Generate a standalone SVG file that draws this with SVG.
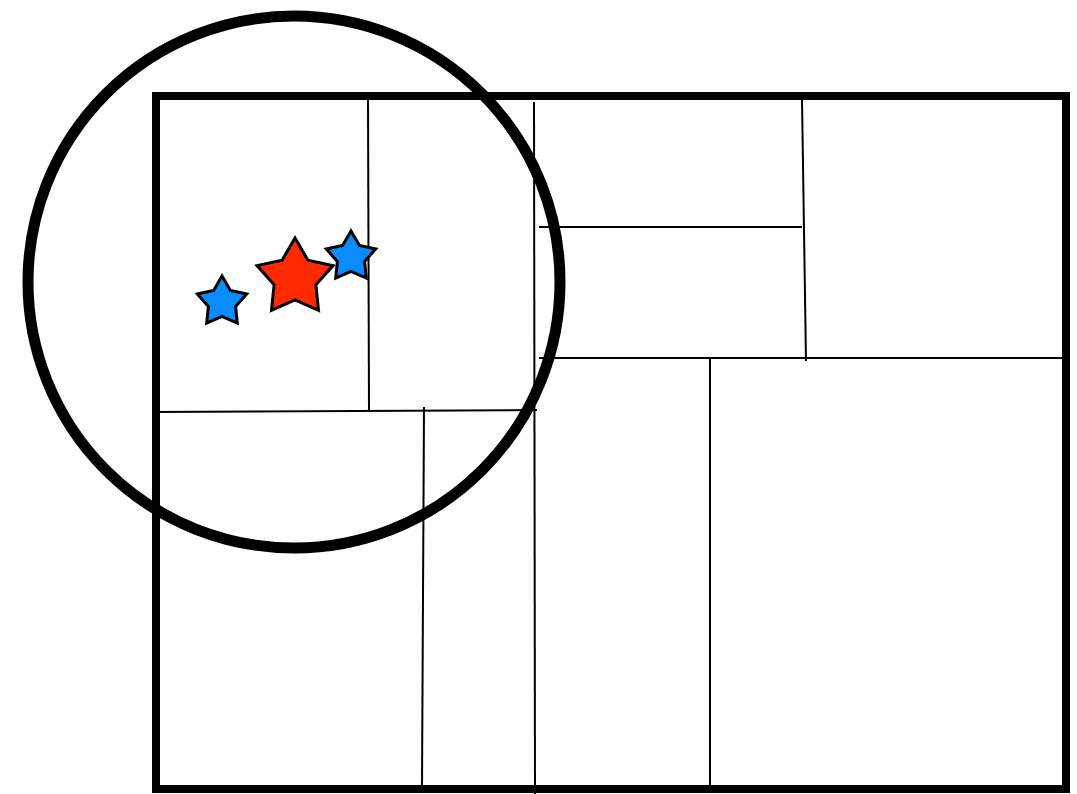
<svg xmlns="http://www.w3.org/2000/svg" width="1077" height="794" viewBox="0 0 1077 794">
<style>
.thick{fill:none;stroke:#000;stroke-width:8}
.ring{fill:none;stroke:#000;stroke-width:11}
.thin{fill:none;stroke:#000;stroke-width:2}
.star{stroke:#000;stroke-width:3;stroke-linejoin:miter}
.blue{fill:#0A8CFF}
.red{fill:#FF2A00}
</style>
<rect width="1077" height="794" fill="#fff"/>
<g id="frame">
<rect class="thick" x="156" y="96" width="910" height="693"/>
</g>
<g id="lines">
<line class="thin" x1="368" y1="99" x2="369" y2="411"/>
<line class="thin" x1="152" y1="412" x2="537" y2="410"/>
<line class="thin" x1="424" y1="407" x2="422" y2="786"/>
<line class="thin" x1="534" y1="102" x2="535" y2="794"/>
<line class="thin" x1="539" y1="227" x2="802" y2="227"/>
<line class="thin" x1="802" y1="99" x2="806" y2="361"/>
<line class="thin" x1="539" y1="358" x2="1063" y2="358"/>
<line class="thin" x1="710" y1="358" x2="710" y2="786"/>
</g>
<g id="circle">
<circle class="ring" cx="294" cy="282" r="266"/>
</g>
<g id="stars">
<polygon id="star-blue-left" class="star blue" points="222,276 230.4,290.4 246.7,294 235.6,306.4 237.3,323 222,316.3 206.7,323 208.4,306.4 197.3,294 213.6,290.4"/>
<polygon id="star-red" class="star red" points="295,238 307.9,260.2 333,265.6 315.9,284.8 318.5,310.4 295,300 271.5,310.4 274.1,284.8 257,265.6 282.1,260.2"/>
<polygon id="star-blue-right" class="star blue" points="351,231 359.4,245.4 375.7,249 364.6,261.4 366.3,278 351,271.3 335.7,278 337.4,261.4 326.3,249 342.6,245.4"/>
</g>
</svg>
